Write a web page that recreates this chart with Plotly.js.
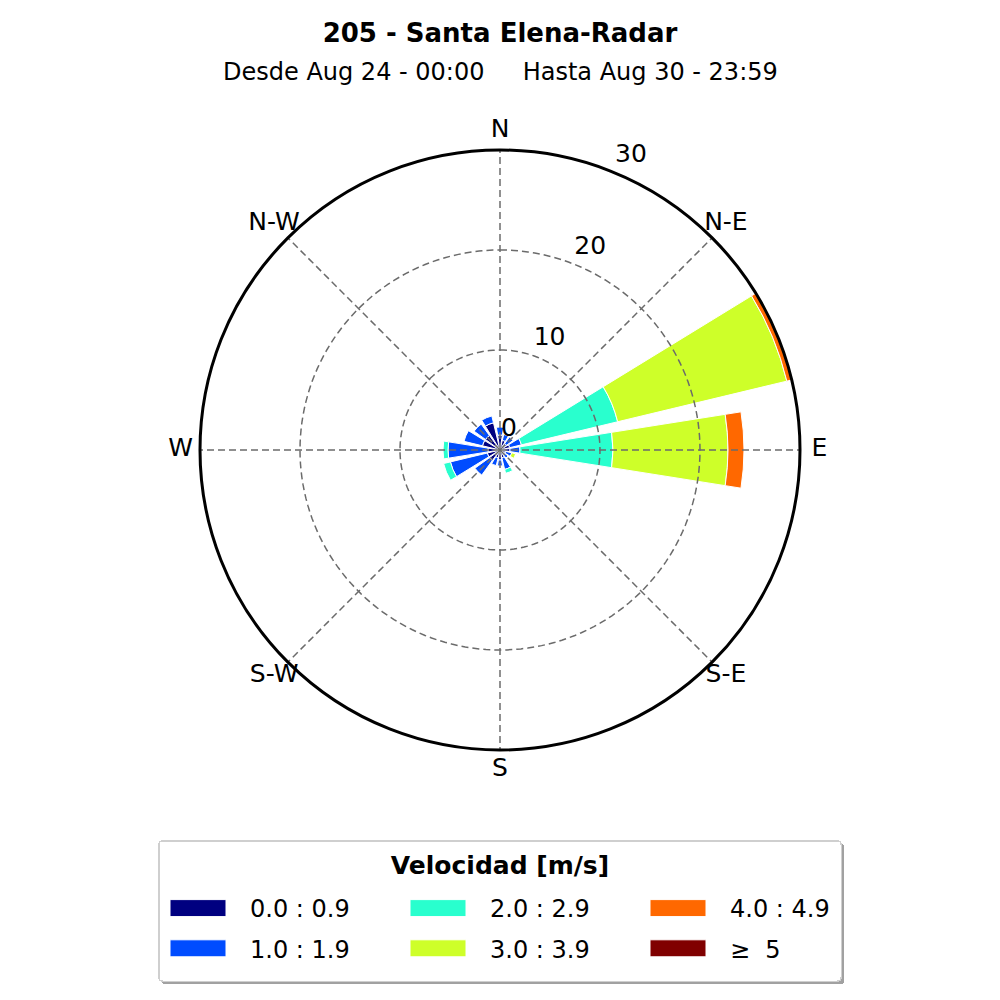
<!DOCTYPE html>
<html>
<head>
<meta charset="utf-8">
<script src="https://cdn.plot.ly/plotly-3.0.1.min.js"></script>
<style>html,body{margin:0;padding:0;background:#fff;}#chart{width:1000px;height:1000px;}</style>
</head>
<body>
<div id="chart"></div>
<script>
// Directions (compass degrees) and labels
const directions = [0, 22.5, 45, 67.5, 90, 112.5, 135, 157.5, 180, 202.5, 225, 247.5, 270, 292.5, 315, 337.5];
const compassTickVals = [0, 45, 90, 135, 180, 225, 270, 315];
const compassTickText = ['N', 'N-E', 'E', 'S-E', 'S', 'S-W', 'W', 'N-W'];
const radialTicks = [0, 10, 20, 30];
const radialMax = 30;

// Frequency (%) per speed bin, per direction (N, NNE, NE, ENE, E, ESE, SE, SSE, S, SSW, SW, WSW, W, WNW, NW, NNW)
const speedBins = ['0.0 : 0.9', '1.0 : 1.9', '2.0 : 2.9', '3.0 : 3.9', '4.0 : 4.9', '\u2265\u00a0 5'];
const bin0 = [1.5, 1.0, 0.8, 1.0, 1.0, 0.6, 0.6, 0.8, 1.0, 0.8, 1.3, 1.3, 1.2, 1.8, 1.8, 2.8];
const bin1 = [0.8, 0.6, 0.8, 1.2, 1.0, 0.6, 0.4, 1.2, 0.6, 0.8, 1.8, 3.8, 4.0, 1.9, 1.4, 0.7];
const bin2 = [0, 0, 0, 9.9, 9.3, 0, 0, 0.4, 0, 0, 0, 0.7, 0.5, 0, 0, 0];
const bin3 = [0, 0, 0, 17.4, 11.5, 0.4, 0, 0, 0, 0, 0, 0, 0, 0, 0, 0];
const bin4 = [0, 0, 0, 1.6, 1.6, 0, 0, 0, 0, 0, 0, 0, 0, 0, 0, 0];
const bin5 = [0, 0, 0, 0, 0, 0, 0, 0, 0, 0, 0, 0, 0, 0, 0, 0];
const binColors = ['#000080', '#004cff', '#29ffce', '#ceff29', '#ff6800', '#800000'];
const legendRanks = [1, 4, 2, 5, 3, 6];

const titleText = '205 - Santa Elena-Radar';
const subtitleText = 'Desde Aug 24 - 00:00\u00a0\u00a0\u00a0\u00a0\u00a0Hasta Aug 30 - 23:59';
const legendTitle = 'Velocidad [m/s]';

const binValues = [bin0, bin1, bin2, bin3, bin4, bin5];
const traces = binValues.map((vals, i) => ({
  type: 'barpolar',
  r: vals,
  theta: directions,
  width: directions.map(() => 18),
  name: speedBins[i],
  legendrank: legendRanks[i],
  marker: {color: binColors[i], line: {color: '#ffffff', width: 1}},
  hoverinfo: 'skip'
}));

// Dashed grid drawn above the bars (as in the reference)
const gridStyle = {color: '#6b6b6b', width: 1.5, dash: '7px,4px'};
compassTickVals.forEach(a => {
  traces.push({type: 'scatterpolar', mode: 'lines', r: [0, radialMax], theta: [a, a],
    line: gridStyle, showlegend: false, hoverinfo: 'skip'});
});
radialTicks.slice(1, 3).forEach(rv => {
  const th = [], rr = [];
  for (let k = 0; k <= 360; k += 2) { th.push(k); rr.push(rv); }
  traces.push({type: 'scatterpolar', mode: 'lines', r: rr, theta: th,
    line: gridStyle, showlegend: false, hoverinfo: 'skip'});
});

const fontFam = '"DejaVu Sans", sans-serif';
// Labels live on a second, slightly larger (same scale) polar so they are not clipped
const labelMax = 33;
traces.push({type: 'scatterpolar', subplot: 'polar2', mode: 'text', cliponaxis: false,
  r: compassTickVals.map(() => radialMax * 1.065), theta: compassTickVals, text: compassTickText,
  textposition: 'middle center', textfont: {family: fontFam, size: 25, color: '#000'},
  showlegend: false, hoverinfo: 'skip'});
traces.push({type: 'scatterpolar', subplot: 'polar2', mode: 'text', cliponaxis: false,
  r: radialTicks.map(v => v + radialMax * 0.073), theta: radialTicks.map(() => 24),
  text: radialTicks.map(String),
  textposition: 'middle center', textfont: {family: fontFam, size: 25, color: '#000'},
  showlegend: false, hoverinfo: 'skip'});

const plotW = 760, mL = 120;
const layout = {
  width: 1000, height: 1000,
  margin: {l: mL, r: 1000 - mL - plotW, t: 0, b: 0},
  paper_bgcolor: '#ffffff',
  plot_bgcolor: '#ffffff',
  font: {family: fontFam, color: '#000000', size: 22},
  title: {
    text: '<b>' + titleText + '</b>',
    font: {family: fontFam, size: 26, color: '#000'},
    x: 0.5, xanchor: 'center', y: 0.967, yanchor: 'middle', yref: 'container'
  },
  annotations: [{
    text: subtitleText, xref: 'paper', yref: 'paper', x: 0.5, y: 0.928,
    xanchor: 'center', yanchor: 'middle', showarrow: false,
    font: {family: fontFam, size: 24, color: '#000'}
  }],
  polar: {
    domain: {x: [(200 - mL) / plotW, (800 - mL) / plotW], y: [0.25, 0.85]},
    bgcolor: '#ffffff',
    barmode: 'stack',
    angularaxis: {
      type: 'linear', thetaunit: 'degrees', rotation: 90, direction: 'clockwise',
      tickmode: 'array', tickvals: compassTickVals, ticktext: compassTickText,
      showticklabels: false, showgrid: false, ticks: '',
      showline: true, linecolor: '#000', linewidth: 3
    },
    radialaxis: {
      range: [0, radialMax], tickmode: 'array', tickvals: radialTicks,
      showgrid: false, showline: false, ticks: '', showticklabels: false
    }
  },
  polar2: {
    domain: {x: [(170 - mL) / plotW, (830 - mL) / plotW], y: [0.22, 0.88]},
    bgcolor: 'rgba(0,0,0,0)',
    angularaxis: {
      type: 'linear', thetaunit: 'degrees', rotation: 90, direction: 'clockwise',
      showticklabels: false, showgrid: false, ticks: '', showline: false
    },
    radialaxis: {
      range: [0, labelMax], showgrid: false, showline: false, ticks: '', showticklabels: false
    }
  },
  showlegend: true,
  legend: {
    orientation: 'h', x: 0.5, xanchor: 'center', y: 0.16, yanchor: 'top',
    traceorder: 'normal',
    bgcolor: '#ffffff', bordercolor: '#cfcfcf', borderwidth: 1.5,
    title: {text: '<b>' + legendTitle + '</b>', side: 'top center', font: {size: 25}},
    font: {size: 24, color: '#000'},
    entrywidth: 145, entrywidthmode: 'pixels', itemwidth: 80
  }
};

function parseT(el) {
  const m = /translate\(\s*([-\d.e]+)[ ,]+([-\d.e]+)\s*\)/.exec(el.getAttribute('transform') || '');
  return m ? {x: parseFloat(m[1]), y: parseFloat(m[2])} : {x: 0, y: 0};
}
function styleLegend() {
  const leg = document.querySelector('g.legend');
  if (!leg || leg.getAttribute('data-tweaked')) return;
  leg.setAttribute('data-tweaked', '1');
  leg.querySelectorAll('g.legendpoints path').forEach(p => p.setAttribute('d', 'M-35,8.5H21V-8.5H-35Z'));
  // Row spacing and box size closer to the reference legend
  const items = Array.from(leg.querySelectorAll('g.traces'));
  const ys = Array.from(new Set(items.map(t => parseT(t).y))).sort((a, b) => a - b);
  const rowShift = [12, 18, 24];
  items.forEach(t => {
    const p = parseT(t);
    t.setAttribute('transform', 'translate(' + (p.x + 20) + ',' + (p.y + rowShift[ys.indexOf(p.y)]) + ')');
  });
  const sb = leg.querySelector('g.scrollbox');
  if (sb) sb.removeAttribute('clip-path');
  const bg = leg.querySelector('rect.bg');
  if (bg) {
    const w = parseFloat(bg.getAttribute('width')), h = parseFloat(bg.getAttribute('height'));
    const x0 = parseFloat(bg.getAttribute('x') || 0), y0 = parseFloat(bg.getAttribute('y') || 0);
    bg.setAttribute('width', w - 39); bg.setAttribute('x', x0 + 19.5);
    bg.setAttribute('height', h + 28);
    bg.setAttribute('rx', 4); bg.setAttribute('ry', 4);
    const sh = bg.cloneNode(false);
    sh.setAttribute('class', 'legshadow');
    sh.setAttribute('x', x0 + 19.5 + 3); sh.setAttribute('y', y0 + 3);
    sh.style.fill = '#8a8a8a'; sh.style.stroke = 'none'; sh.style.fillOpacity = 0.8;
    bg.parentNode.insertBefore(sh, bg);
  }
}
const gd = document.getElementById('chart');
Plotly.newPlot(gd, traces, layout, {displayModeBar: false, staticPlot: true}).then(() => {
  styleLegend();
  gd.on('plotly_afterplot', styleLegend);
});
</script>
</body>
</html>
